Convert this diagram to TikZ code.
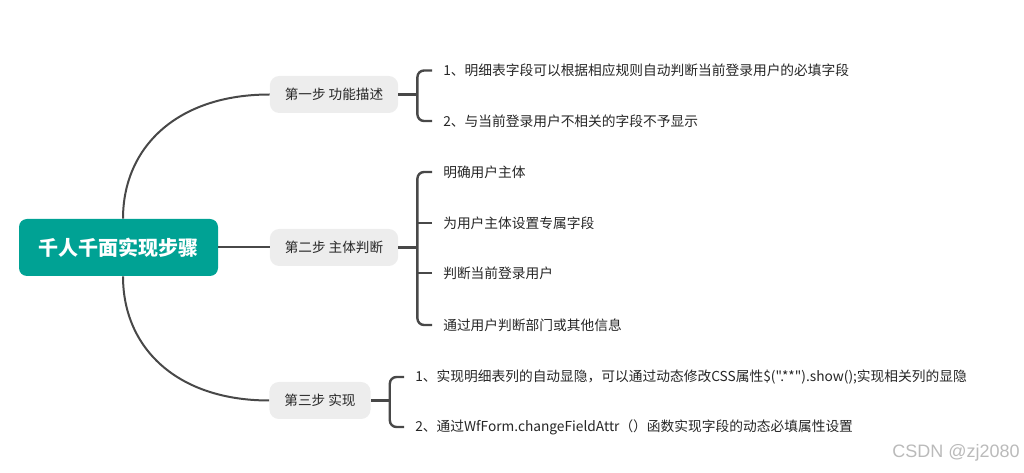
\documentclass[tikz,border=0pt]{standalone}
\usepackage{fontspec}
\setmainfont[Ligatures=TeXOff]{Noto Sans CJK SC}
\newfontfamily\wmfont{Liberation Sans}
\usetikzlibrary{calc}
\definecolor{teal1}{HTML}{00A294}
\definecolor{boxgray}{HTML}{EDEDED}
\definecolor{linegray}{HTML}{484848}
\definecolor{txt}{HTML}{262626}
\tikzset{
  rootbox/.style={fill=teal1, rounded corners=6pt, text=white, font=\fontsize{15}{18}\selectfont\bfseries,
    minimum width=149.25pt, minimum height=42.75pt, inner sep=0pt},
  stepbox/.style={fill=boxgray, rounded corners=7pt, text=txt, font=\fontsize{10.2}{12}\selectfont,
    inner xsep=11.25pt, minimum height=27.75pt, inner ysep=0pt},
  leaf/.style={anchor=west, text=txt, font=\fontsize{10.3}{12}\selectfont, inner xsep=8.25pt, inner ysep=2pt},
  conn/.style={draw=linegray, line width=1.5pt},
  brk/.style={draw=linegray, line width=1.8pt, rounded corners=5pt},
}
\begin{document}
\begin{tikzpicture}[x=0.75pt, y=-0.75pt]
\useasboundingbox (0,0) rectangle (1024,473);
% nodes
\node[rootbox] (root) at (118.5,247.5) {千人千面实现步骤};
\node[stepbox] (s1) at (334,94.5) {第一步 功能描述};
\node[stepbox] (s2) at (334,247.5) {第二步 主体判断};
\node[stepbox] (s3) at (320,400.5) {第三步 实现};
\node[leaf] (c11) at (432,70.5) {1、明细表字段可以根据相应规则自动判断当前登录用户的必填字段};
\node[leaf] (c12) at (432,121) {2、与当前登录用户不相关的字段不予显示};
\node[leaf] (c21) at (432,172) {明确用户主体};
\node[leaf] (c22) at (432,223) {为用户主体设置专属字段};
\node[leaf] (c23) at (432,273) {判断当前登录用户};
\node[leaf] (c24) at (432,325) {通过用户判断部门或其他信息};
\node[leaf] (c31) at (404,377) {1、实现明细表列的自动显隐，可以通过动态修改CSS属性\$(".**").show();实现相关列的显隐};
\node[leaf] (c32) at (404,427) {2、通过WfForm.changeFieldAttr（）函数实现字段的动态必填属性设置};
\node[text=black!27, font=\wmfont\fontsize{13.5}{16}\selectfont, anchor=east, inner sep=0pt] (wm) at (1020,453) {CSDN @zj2080};
% main connectors
\coordinate (rt) at ($(root.north)+(4.5,0)$);
\coordinate (rb) at ($(root.south)+(4.5,0)$);
\draw[conn] (rt) .. controls ($(rt)+(0,-72)$) and ($(s1.west)+(-92,0)$) .. (s1.west);
\draw[conn] (rb) .. controls ($(rb)+(0,72)$) and ($(s3.west)+(-92,0)$) .. (s3.west);
\draw[conn] (root.east) -- (s2.west);
% bracket 1
\draw[brk] (s1.east) -- ++(19,0) coordinate (b1);
\draw[brk] (c11.west) -| (b1) |- (c12.west);
% bracket 2
\draw[brk] (s2.east) -- ++(19,0) coordinate (b2);
\draw[brk] (c21.west) -| (b2) |- (c24.west);
\draw[brk] (c22.west) -- (c22.west -| b2);
\draw[brk] (c23.west) -- (c23.west -| b2);
% bracket 3
\draw[brk] (s3.east) -- ++(19,0) coordinate (b3);
\draw[brk] (c31.west) -| (b3) |- (c32.west);
\end{tikzpicture}
\end{document}
